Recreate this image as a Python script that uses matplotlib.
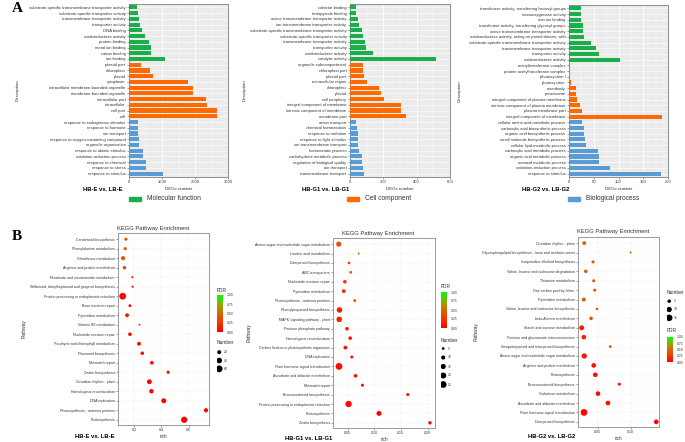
import matplotlib
matplotlib.use("Agg")
import matplotlib.pyplot as plt
import numpy as np
from matplotlib.cm import ScalarMappable
from matplotlib.colors import LinearSegmentedColormap, Normalize
from matplotlib.patches import Rectangle

plt.rcParams["font.family"] = ["Liberation Sans", "DejaVu Sans"]

W, H = 685, 442

# ---------------- Panel A: GO enrichment bars ----------------
go_groups = ["Molecular function", "Cell component", "Biological process"]
go_colors = ["#1BAF4C", "#FF6A00", "#5B9BD5"]

e_terms = [
    "substrate-specific transmembrane transporter activity",
    "substrate-specific transporter activity",
    "transmembrane transporter activity",
    "transporter activity",
    "DNA binding",
    "oxidoreductase activity",
    "protein binding",
    "metal ion binding",
    "cation binding",
    "ion binding",
    "plastid part",
    "chloroplast",
    "plastid",
    "cytoplasm",
    "intracellular membrane-bounded organelle",
    "membrane-bounded organelle",
    "intracellular part",
    "intracellular",
    "cell part",
    "cell",
    "response to endogenous stimulus",
    "response to hormone",
    "ion transport",
    "response to oxygen-containing compound",
    "organelle organization",
    "response to abiotic stimulus",
    "oxidation-reduction process",
    "response to chemical",
    "response to stress",
    "response to stimulus",
]
e_counts = [250, 260, 300, 340, 400, 480, 600, 660, 660, 1100,
            360, 650, 720, 1780, 1940, 1950, 2340, 2370, 2670, 2670,
            270, 270, 270, 290, 300, 420, 430, 500, 530, 1020]

g1_terms = [
    "cofactor binding",
    "tetrapyrrole binding",
    "active transmembrane transporter activity",
    "ion transmembrane transporter activity",
    "substrate-specific transmembrane transporter activity",
    "substrate-specific transporter activity",
    "transmembrane transporter activity",
    "transporter activity",
    "oxidoreductase activity",
    "catalytic activity",
    "organelle subcompartment",
    "chloroplast part",
    "plastid part",
    "extracellular region",
    "chloroplast",
    "plastid",
    "cell periphery",
    "integral component of membrane",
    "intrinsic component of membrane",
    "membrane part",
    "anion transport",
    "chemical homeostasis",
    "response to radiation",
    "response to light stimulus",
    "ion transmembrane transport",
    "homeostatic process",
    "carbohydrate metabolic process",
    "regulation of biological quality",
    "ion transport",
    "transmembrane transport",
]
g1_counts = [35, 35, 45, 55, 73, 78, 90, 98, 137, 515,
             78, 80, 82, 100, 171, 188, 204, 304, 306, 333,
             33, 41, 45, 45, 47, 51, 69, 73, 76, 82]

g2_terms = [
    "transferase activity, transferring hexosyl groups",
    "monooxygenase activity",
    "iron ion binding",
    "transferase activity, transferring glycosyl groups",
    "active transmembrane transporter activity",
    "oxidoreductase activity, acting on paired donors, with",
    "substrate-specific transmembrane transporter activity",
    "transmembrane transporter activity",
    "transporter activity",
    "oxidoreductase activity",
    "acetyltransferase complex",
    "protein acetyltransferase complex",
    "photosystem I",
    "photosystem",
    "microbody",
    "peroxisome",
    "integral component of plasma membrane",
    "intrinsic component of plasma membrane",
    "plasma membrane part",
    "integral component of membrane",
    "cellular amino acid metabolic process",
    "carboxylic acid biosynthetic process",
    "organic acid biosynthetic process",
    "small molecule biosynthetic process",
    "cellular lipid metabolic process",
    "carboxylic acid metabolic process",
    "organic acid metabolic process",
    "oxoacid metabolic process",
    "oxidation-reduction process",
    "response to stimulus",
]
g2_counts = [24, 25, 25, 28, 29, 31, 45, 55, 61, 103,
             3, 3, 3, 4, 14, 14, 17, 23, 27, 187,
             27, 30, 30, 32, 35, 59, 60, 60, 83, 185]

group_size = [10, 10, 10]

# ---------------- Panel B: KEGG enrichment dots ----------------
ke_terms = [
    "Carotenoid biosynthesis", "Phenylalanine metabolism", "Glutathione metabolism",
    "Arginine and proline metabolism", "Nicotinate and nicotinamide metabolism",
    "Stilbenoid, diarylheptanoid and gingerol biosynthesis",
    "Protein processing in endoplasmic reticulum", "Base excision repair",
    "Pyrimidine metabolism", "Vitamin B6 metabolism", "Nucleotide excision repair",
    "Porphyrin and chlorophyll metabolism", "Flavonoid biosynthesis", "Mismatch repair",
    "Zeatin biosynthesis", "Circadian rhythm - plant", "Homologous recombination",
    "DNA replication", "Photosynthesis - antenna proteins", "Photosynthesis",
]
ke_rich = [0.141, 0.136, 0.120, 0.130, 0.188, 0.190, 0.117, 0.170, 0.149, 0.240,
           0.170, 0.236, 0.260, 0.330, 0.449, 0.312, 0.327, 0.417, 0.725, 0.566]
ke_num = [12, 12, 22, 15, 4, 5, 60, 10, 18, 3, 16, 18, 15, 16, 12, 30, 25, 32, 22, 52]
ke_fdr = [0.42, 0.42, 0.40, 0.42, 0.12, 0.15, 0.02, 0.08, 0.08, 0.10,
          0.05, 0.03, 0.03, 0.02, 0.03, 0.02, 0.01, 0.00, 0.01, 0.00]

kg1_terms = [
    "Amino sugar and nucleotide sugar metabolism", "Linoleic acid metabolism",
    "Diterpenoid biosynthesis", "ABC transporters", "Nucleotide excision repair",
    "Pyrimidine metabolism", "Photosynthesis - antenna proteins",
    "Phenylpropanoid biosynthesis", "MAPK signaling pathway - plant",
    "Pentose phosphate pathway", "Homologous recombination",
    "Carbon fixation in photosynthetic organisms", "DNA replication",
    "Plant hormone signal transduction", "Ascorbate and aldarate metabolism",
    "Mismatch repair", "Brassinosteroid biosynthesis",
    "Protein processing in endoplasmic reticulum", "Photosynthesis", "Zeatin biosynthesis",
]
kg1_rich = [0.0335, 0.071, 0.053, 0.056, 0.045, 0.043, 0.0635, 0.035, 0.0345, 0.049,
            0.055, 0.046, 0.058, 0.034, 0.065, 0.078, 0.163, 0.052, 0.109, 0.2045]
kg1_num = [15, 3, 5, 5, 8, 9, 5, 17, 17, 8, 8, 9, 6, 25, 8, 6, 6, 22, 14, 7]
kg1_fdr = [0.40, 0.40, 0.32, 0.35, 0.25, 0.20, 0.25, 0.12, 0.12, 0.12,
           0.12, 0.10, 0.10, 0.05, 0.08, 0.06, 0.05, 0.02, 0.01, 0.01]

kg2_terms = [
    "Circadian rhythm - plant",
    "Glycosphingolipid biosynthesis - lacto and neolacto series",
    "Isoquinoline alkaloid biosynthesis", "Valine, leucine and isoleucine degradation",
    "Thiamine metabolism", "One carbon pool by folate", "Pyrimidine metabolism",
    "Valine, leucine and isoleucine biosynthesis", "beta-Alanine metabolism",
    "Starch and sucrose metabolism", "Pentose and glucuronate interconversions",
    "Sesquiterpenoid and triterpenoid biosynthesis",
    "Amino sugar and nucleotide sugar metabolism", "Arginine and proline metabolism",
    "Photosynthesis", "Brassinosteroid biosynthesis", "Galactose metabolism",
    "Ascorbate and aldarate metabolism", "Plant hormone signal transduction",
    "Diterpenoid biosynthesis",
]
kg2_rich = [0.0297, 0.100, 0.043, 0.032, 0.044, 0.0455, 0.029, 0.049, 0.040, 0.0258,
            0.029, 0.069, 0.0297, 0.044, 0.0464, 0.0828, 0.0505, 0.0656, 0.0293, 0.1388]
kg2_num = [6, 2, 4, 5, 4, 4, 6, 3, 5, 9, 8, 3, 10, 8, 8, 4, 8, 8, 16, 8]
kg2_fdr = [0.50, 0.42, 0.42, 0.42, 0.42, 0.42, 0.42, 0.42, 0.35, 0.15,
           0.15, 0.25, 0.10, 0.10, 0.08, 0.08, 0.05, 0.05, 0.02, 0.01]

fdr_cmap = LinearSegmentedColormap.from_list(
    "fdr", [(0, "#FF0000"), (0.3, "#F04000"), (0.5, "#D06A00"), (0.72, "#90A800"), (1, "#00FF00")])
fdr_norm = Normalize(0, 1)


def rect(x0, y0, x1, y1):
    return [x0 / W, 1 - y1 / H, (x1 - x0) / W, (y1 - y0) / H]


fig = plt.figure(figsize=(W / 100, H / 100), dpi=100)


def bar_panel(box, terms, counts, xmax, step, title, title_x, ylab_x):
    ax = fig.add_axes(rect(*box))
    y = np.arange(len(terms))
    colors = np.repeat(go_colors, group_size)
    ax.set_facecolor("#EBEBEB")
    ax.barh(y, counts, height=0.72, color=colors, zorder=3)
    ax.set_xlim(0, xmax)
    ax.set_ylim(len(terms) - 0.4, -0.6)
    ax.set_yticks(y)
    ax.set_yticklabels(terms, fontsize=3.0)
    ax.set_xticks(np.arange(0, xmax + 1, step))
    ax.set_xticks(np.arange(step / 2, xmax, step), minor=True)
    ax.tick_params(axis="both", length=1.5, width=0.4, color="#555555", pad=1,
                   labelsize=3.0, labelcolor="#333333")
    ax.tick_params(axis="x", which="minor", length=0)
    ax.grid(True, axis="x", which="major", color="white", lw=0.6, zorder=1)
    ax.grid(True, axis="x", which="minor", color="white", lw=0.3, zorder=1)
    ax.grid(True, axis="y", color="white", lw=0.4, zorder=1)
    for s in ax.spines.values():
        s.set_color("#8C8C8C")
        s.set_linewidth(0.7)
    ax.set_xlabel("DEGs number", fontsize=3.2, labelpad=1.5, color="#333333")
    ax.set_ylabel("Description", fontsize=3.2, color="#333333")
    ax.yaxis.set_label_coords(ylab_x, 0.5)
    fig.text(title_x / W, 1 - 189 / H, title, fontsize=4.2, fontweight="bold",
             ha="center", va="center")
    return ax


bar_panel((129, 4, 228, 177), e_terms, e_counts, 3000, 1000, "HB-E vs. LB-E", 103, -1.10)
bar_panel((350, 4, 450, 177), g1_terms, g1_counts, 600, 200, "HB-G1 vs. LB-G1", 326, -1.03)
bar_panel((569, 5, 668, 177), g2_terms, g2_counts, 200, 50, "HB-G2 vs. LB-G2", 546, -1.08)

# GO category legend row
for name, col, x0 in zip(go_groups, go_colors, [129, 347, 568]):
    fig.add_artist(Rectangle((x0 / W, 1 - 201 / H), 12 / W, 4 / H,
                             transform=fig.transFigure, color=col))
    fig.text((x0 + 18) / W, 1 - 199 / H, name, fontsize=4.8, va="center", color="#333333")

fig.text(12 / W, 1 - 8 / H, "A", fontsize=11, fontweight="bold",
         family="Liberation Serif", va="center")
fig.text(12 / W, 1 - 236 / H, "B", fontsize=11, fontweight="bold",
         family="Liberation Serif", va="center")


def dot_panel(box, terms, rich, num, fdr, xlim, xticks, xfmt, title_x, label, label_xy, ylab_x):
    ax = fig.add_axes(rect(*box))
    y = np.arange(len(terms))
    num = np.asarray(num, float)
    lo, hi = num.min(), num.max()
    size = lambda n: 1.8 + 22 * (np.asarray(n, float) - lo) / (hi - lo)
    ax.scatter(rich, y, s=size(num), c=fdr, cmap=fdr_cmap, norm=fdr_norm,
               linewidths=0, zorder=3)
    ax.set_xlim(*xlim)
    ax.set_ylim(len(terms) - 0.45, -0.65)
    ax.set_yticks(y)
    ax.set_yticklabels(terms, fontsize=2.5)
    ax.set_xticks(xticks)
    ax.set_xticklabels([xfmt.format(t) for t in xticks])
    ax.tick_params(axis="both", length=1.2, width=0.4, color="#555555", pad=1,
                   labelsize=2.6, labelcolor="#333333")
    ax.grid(True, color="#DDDDDD", lw=0.35, ls=":", zorder=1)
    for s in ax.spines.values():
        s.set_color("#9A9A9A")
        s.set_linewidth(0.7)
    ax.set_xlabel("rich", fontsize=3.3, labelpad=1.5, color="#333333")
    ax.set_ylabel("Pathway", fontsize=3.5, color="#333333")
    ax.yaxis.set_label_coords(ylab_x, 0.5)
    fig.text(title_x / W, 1 - (box[1] - 5) / H, "KEGG Pathway Enrichment",
             fontsize=4.2, ha="center", va="center", color="#333333")
    fig.text(label_xy[0] / W, 1 - label_xy[1] / H, label, fontsize=4.2,
             fontweight="bold", ha="center", va="center")
    return size


def fdr_legend(cbox, title_y):
    fig.text(cbox[0] / W, 1 - title_y / H, "FDR", fontsize=3.5, va="center", color="#333333")
    cax = fig.add_axes(rect(*cbox))
    cb = fig.colorbar(ScalarMappable(norm=fdr_norm, cmap=fdr_cmap), cax=cax)
    cb.set_ticks([0, 0.25, 0.5, 0.75, 1.0])
    cb.set_ticklabels(["0.00", "0.25", "0.50", "0.75", "1.00"])
    cb.outline.set_visible(False)
    cax.tick_params(length=1, width=0.3, color="white", pad=1.5, labelsize=2.4,
                    labelcolor="#333333")


def number_legend(size, levels, x0, title_y, y0, y1):
    fig.text(x0 / W, 1 - title_y / H, "Number", fontsize=3.5, va="center", color="#333333")
    lax = fig.add_axes(rect(x0, y0, x0 + 16, y1))
    lax.axis("off")
    pos = np.arange(len(levels))
    lax.scatter(np.zeros(len(levels)), pos, s=size(levels), color="black", linewidths=0)
    for p, lv in zip(pos, levels):
        lax.text(0.9, p, str(lv), fontsize=2.4, va="center", color="#333333")
    lax.set_xlim(-0.4, 2.5)
    lax.set_ylim(len(levels) - 0.5, -0.5)


s1 = dot_panel((118, 233, 209, 425), ke_terms, ke_rich, ke_num, ke_fdr, (0.083, 0.747),
               [0.2, 0.4, 0.6], "{:.1f}", 153, "HB-E vs. LB-E", (95, 436), -1.0)
fdr_legend((217, 295, 223, 332), 291)
number_legend(s1, [20, 40, 60], 217, 343, 348, 373)

s2 = dot_panel((333, 238, 435, 428), kg1_terms, kg1_rich, kg1_num, kg1_fdr, (0.0228, 0.214),
               [0.05, 0.10, 0.15, 0.20], "{:.2f}", 378, "HB-G1 vs. LB-G1", (309, 439), -0.80)
fdr_legend((441, 292, 447, 328), 287)
number_legend(s2, [5, 10, 15, 20, 25], 441, 341, 344, 389)

s3 = dot_panel((578, 237, 659, 427), kg2_terms, kg2_rich, kg2_num, kg2_fdr, (0.0202, 0.143),
               [0.05, 0.10], "{:.2f}", 613, "HB-G2 vs. LB-G2", (552, 436), -1.23)
number_legend(s3, [5, 10, 15], 667, 293, 297, 322)
fdr_legend((667, 337, 673, 362), 331)

fig.savefig("out.png", dpi=100)
